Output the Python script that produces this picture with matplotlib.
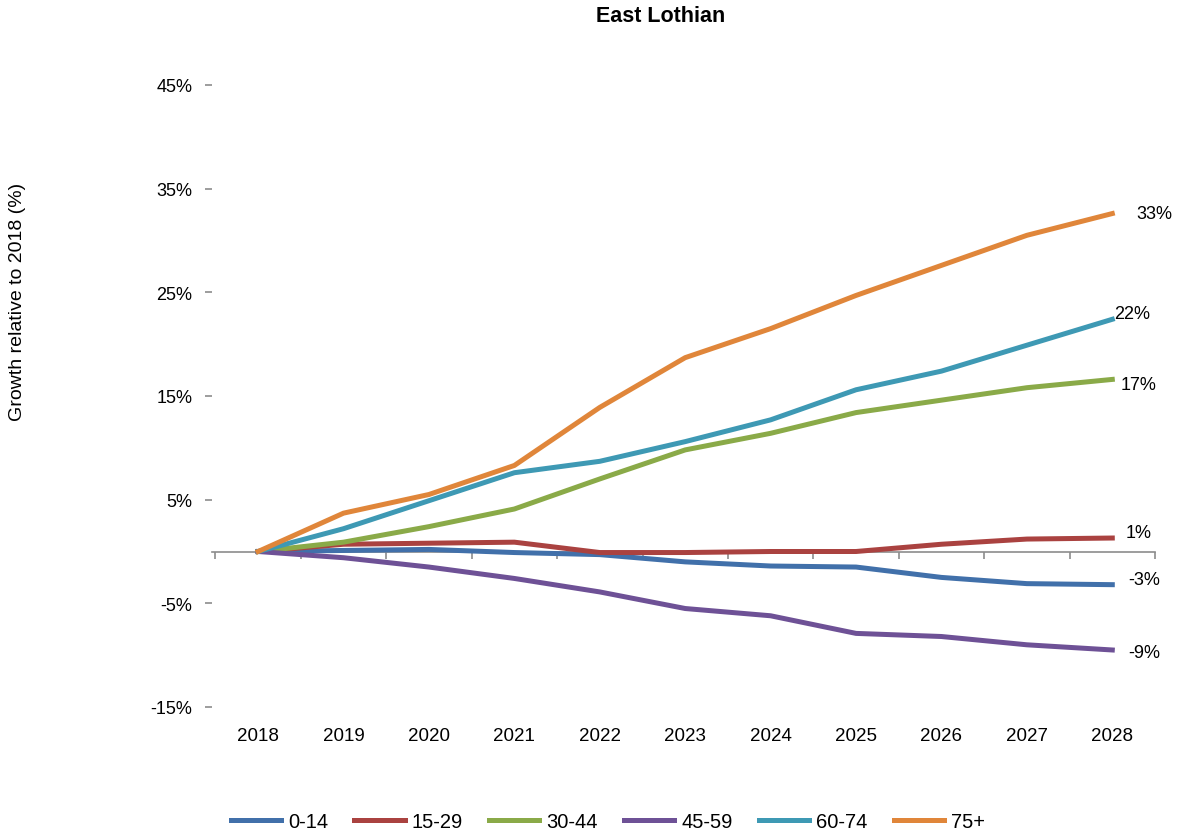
#!/usr/bin/env python3
import numpy as np
import matplotlib
matplotlib.use("Agg")
import matplotlib.pyplot as plt
from matplotlib import transforms

years = ["2018", "2019", "2020", "2021", "2022", "2023", "2024", "2025", "2026", "2027", "2028"]
groups = ["0-14", "15-29", "30-44", "45-59", "60-74", "75+"]

# growth relative to 2018, in %
g_0_14 = [0, 0.1, 0.2, -0.1, -0.3, -1.0, -1.4, -1.5, -2.5, -3.1, -3.2]
g_15_29 = [0, 0.7, 0.8, 0.9, -0.1, -0.1, 0.0, 0.0, 0.7, 1.2, 1.3]
g_30_44 = [0, 0.9, 2.4, 4.1, 7.0, 9.8, 11.4, 13.4, 14.6, 15.8, 16.6]
g_45_59 = [0, -0.6, -1.5, -2.6, -3.9, -5.5, -6.2, -7.9, -8.2, -9.0, -9.5]
g_60_74 = [0, 2.2, 4.9, 7.6, 8.7, 10.6, 12.7, 15.6, 17.4, 19.9, 22.4]
g_75_plus = [0, 3.7, 5.5, 8.3, 13.9, 18.7, 21.5, 24.7, 27.6, 30.5, 32.6]

end_labels = ["-3%", "1%", "17%", "-9%", "22%", "33%"]
yticks = [-15, -5, 5, 15, 25, 35, 45]

colors = ["#4170AA", "#AA4240", "#8AAA48", "#6E5196", "#3E99B4", "#E0863A"]
# offsets (points) of the end-of-line labels
label_off = [(23, 4), (19, 4), (19, -4), (23, -2), (14, 4), (30, 0)]

plt.rcParams['font.family'] = ['Liberation Sans', 'DejaVu Sans']

def main():
    series = [g_0_14, g_15_29, g_30_44, g_45_59, g_60_74, g_75_plus]
    x = np.arange(len(years))

    fig = plt.figure(figsize=(11.82, 8.37), dpi=100)
    ax = fig.add_axes([212 / 1182, 1 - 708 / 837, (1155 - 212) / 1182, (708 - 86) / 837])

    lines = []
    for vals, c, name in zip(series, colors, groups):
        ln, = ax.plot(x, vals, color=c, lw=3.6, solid_joinstyle="round", label=name, zorder=3)
        lines.append(ln)

    for vals, c, lab, off in zip(series, colors, end_labels, label_off):
        ax.annotate(lab, (x[-1], vals[-1]), xytext=off, textcoords="offset points",
                    ha="center", va="center", fontsize=13, color="black")

    ax.set_xlim(-0.54, len(years) - 0.5)
    ax.set_ylim(-15, 45)

    for s in ["top", "right", "left"]:
        ax.spines[s].set_visible(False)
    ax.spines["bottom"].set_position(("data", 0))
    ax.spines["bottom"].set_color("#8c8c8c")
    ax.spines["bottom"].set_linewidth(1.2)

    ax.set_yticks(yticks)
    ax.set_yticklabels([f"{v}%" for v in yticks], fontsize=13)
    ax.tick_params(axis="y", direction="out", length=5, width=1.2, color="#8c8c8c", pad=9)

    # x tick marks between categories, year labels under the plot area
    ax.set_xticks(np.arange(-0.5, len(years)))
    ax.set_xticklabels([])
    ax.tick_params(axis="x", direction="out", length=5, width=1.2, color="#8c8c8c")
    trans = transforms.blended_transform_factory(ax.transData, ax.transAxes)
    for xi, yr in zip(x, years):
        ax.text(xi, -0.046, yr, transform=trans, ha="center", va="center", fontsize=13.5)

    fig.text(661 / 1182, 1 - 16 / 837, "East Lothian", ha="center", va="center",
             fontsize=15.5, fontweight="bold")
    fig.text(18 / 1182, 1 - 302 / 837, "Growth relative to 2018 (%)", rotation=90,
             ha="center", va="center", fontsize=14)

    fig.legend(handles=lines, loc="center", bbox_to_anchor=(608 / 1182, 1 - 823 / 837),
               ncol=6, frameon=False, fontsize=14.5, handlelength=2.5, handletextpad=0.35,
               columnspacing=1.3)

    fig.savefig("out.png", dpi=100)

if __name__ == "__main__":
    main()
